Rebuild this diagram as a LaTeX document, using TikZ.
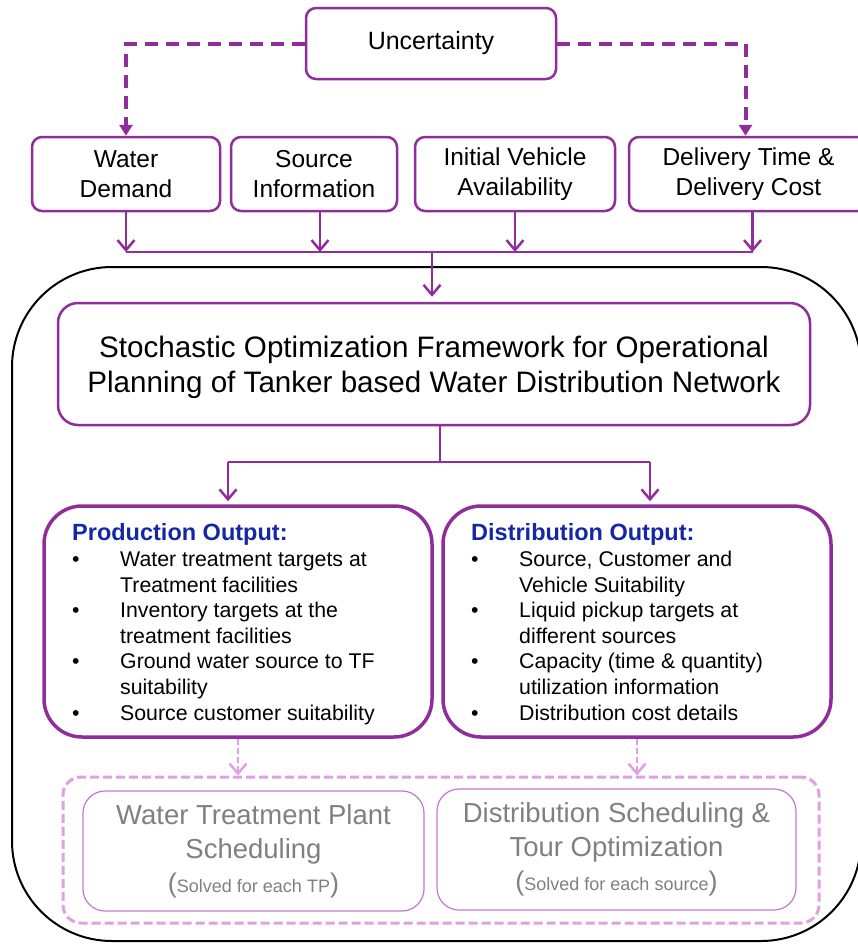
\documentclass[tikz,border=0pt]{standalone}
\usepackage{fontspec}
\setmainfont{Liberation Sans}
\usetikzlibrary{arrows.meta,calc}
\definecolor{pur}{RGB}{145,45,155}
\definecolor{lpur}{RGB}{226,160,228}
\definecolor{mpur}{RGB}{195,120,205}
\definecolor{gtext}{RGB}{128,128,128}
\definecolor{hblue}{RGB}{20,40,165}
\newcommand{\fsz}[2]{\fontsize{#1}{#2}\selectfont}
\newcommand{\bul}{\makebox[48pt][l]{\textbullet}}
\newcommand{\cont}{\hspace*{48pt}}
\tikzset{
  pbox/.style={draw=pur, line width=2.5pt, rounded corners=10pt, align=center, inner sep=0pt},
  outbox/.style={draw=pur, line width=3.5pt, rounded corners=38pt, inner sep=0pt},
  subbox/.style={draw=mpur, line width=1.2pt, rounded corners=22pt, align=center, inner sep=0pt, text=gtext, font=\fsz{27.5}{34}},
  arr/.style={draw=pur, line width=2.5pt, -{Straight Barb[length=10pt,width=17pt]}},
  plainline/.style={draw=pur, line width=2.5pt},
  dasharr/.style={draw=pur, line width=4pt, dash pattern=on 13pt off 8pt, -{Triangle[length=11pt,width=13pt]}},
  ltarr/.style={draw=lpur, line width=2.5pt, dash pattern=on 6pt off 3pt, -{Straight Barb[length=10pt,width=17pt]}},
  head/.style={anchor=base west, inner sep=0pt, text=hblue, font=\bfseries\fsz{23.5}{28}},
  blist/.style={anchor=base west, inner sep=0pt, align=left, font=\fsz{21.3}{25.6}},
}
\begin{document}
\begin{tikzpicture}[x=1pt,y=-1pt]
\useasboundingbox (0,0) rectangle (857,945);
\fill[white] (0,0) rectangle (857,945);

% big frame
\node[draw=black, line width=2pt, rounded corners=100pt, minimum width=849pt, minimum height=674pt, inner sep=0pt] (frame) at (436.5,604) {};

% top
\node[pbox, minimum width=250pt, minimum height=71pt, font=\fsz{25}{30}] (unc) at (431,43.5) {Uncertainty};
\node[pbox, minimum width=188pt, minimum height=74pt, font=\fsz{24.5}{29.5}] (wd) at (126,174) {Water\\Demand};
\node[pbox, minimum width=166pt, minimum height=74pt, font=\fsz{24.5}{29.5}] (si) at (314,174) {Source\\Information};
\node[pbox, minimum width=200pt, minimum height=74pt, font=\fsz{24.5}{29.5}] (iv) at (515,174) {Initial Vehicle\\Availability};
\node[pbox, minimum width=239pt, minimum height=74pt, font=\fsz{24.5}{29.5}] (dt) at (748.5,174) {Delivery Time \&\\Delivery Cost};

\draw[dasharr] (unc.west) -| (wd.north);
\draw[dasharr] (unc.east) -| ([xshift=-3pt]dt.north);

\coordinate (busL) at (wd.south |- 0,252);
\coordinate (busR) at ([xshift=4pt]dt.south |- 0,252);
\coordinate (busmid) at (432,252);
\draw[plainline] (busL) -- (busR);
\draw[arr] (wd.south) -- (busL);
\draw[arr] ([xshift=6pt]si.south) -- ([xshift=6pt]si.south |- busL);
\draw[arr] (iv.south) -- (iv.south |- busL);
\draw[arr] ([xshift=4pt]dt.south) -- (busR);

% framework
\node[pbox, rounded corners=20pt, minimum width=752pt, minimum height=122pt, font=\fsz{29.6}{35}, text depth=0pt] (sto) at (434,364) {\raisebox{-3pt}{\shortstack{}}Stochastic Optimization Framework for Operational\\Planning of Tanker based Water Distribution Network};
\draw[arr, shorten >=5pt] (busmid) -- (busmid |- sto.north);

% outputs
\node[outbox, minimum width=388pt, minimum height=231pt] (prod) at (238,621.5) {};
\node[outbox, minimum width=388pt, minimum height=231pt] (dist) at (637,621.5) {};

\coordinate (split) at (440,462);
\coordinate (pl) at (228,462);
\coordinate (pr) at (650,462);
\draw[plainline] ([xshift=6pt]sto.south) -- (split);
\draw[plainline] (pl) -- (pr);
\draw[arr, shorten >=3pt] (pl) -- (pl |- prod.north);
\draw[arr, shorten >=3pt] (pr) -- (pr |- dist.north);

\node[head] (prodh) at (72,540) {Production Output:};
\node[blist] (prodl) at (72,720) {\bul Water treatment targets at\\
\cont Treatment facilities\\
\bul Inventory targets at the\\
\cont treatment facilities\\
\bul Ground water source to TF\\
\cont suitability\\
\bul Source customer suitability};

\node[head] (disth) at (471,540) {Distribution Output:};
\node[blist] (distl) at (471,720) {\bul Source, Customer and\\
\cont Vehicle Suitability\\
\bul Liquid pickup targets at\\
\cont different sources\\
\bul Capacity (time \& quantity)\\
\cont utilization information\\
\bul Distribution cost details};

% lower
\node[draw=lpur, line width=3pt, dash pattern=on 9pt off 4pt, rounded corners=18pt, minimum width=756pt, minimum height=146pt, inner sep=0pt] (outer) at (441,850) {};
\node[subbox, minimum width=341pt, minimum height=120pt] (wtp) at (253.5,851) {Water Treatment Plant\\Scheduling\\{\fsz{27}{33}(}{\fsz{18}{33}Solved for each TP}{\fsz{27}{33})}};
\node[subbox, minimum width=359pt, minimum height=121pt] (ds) at (616.5,849.5) {Distribution Scheduling \&\\Tour Optimization\\{\fsz{27}{33}(}{\fsz{18}{33}Solved for each source}{\fsz{27}{33})}};

\draw[ltarr] (prod.south) -- (prod.south |- outer.north);
\draw[ltarr] (dist.south) -- (dist.south |- outer.north);
\end{tikzpicture}
\end{document}
